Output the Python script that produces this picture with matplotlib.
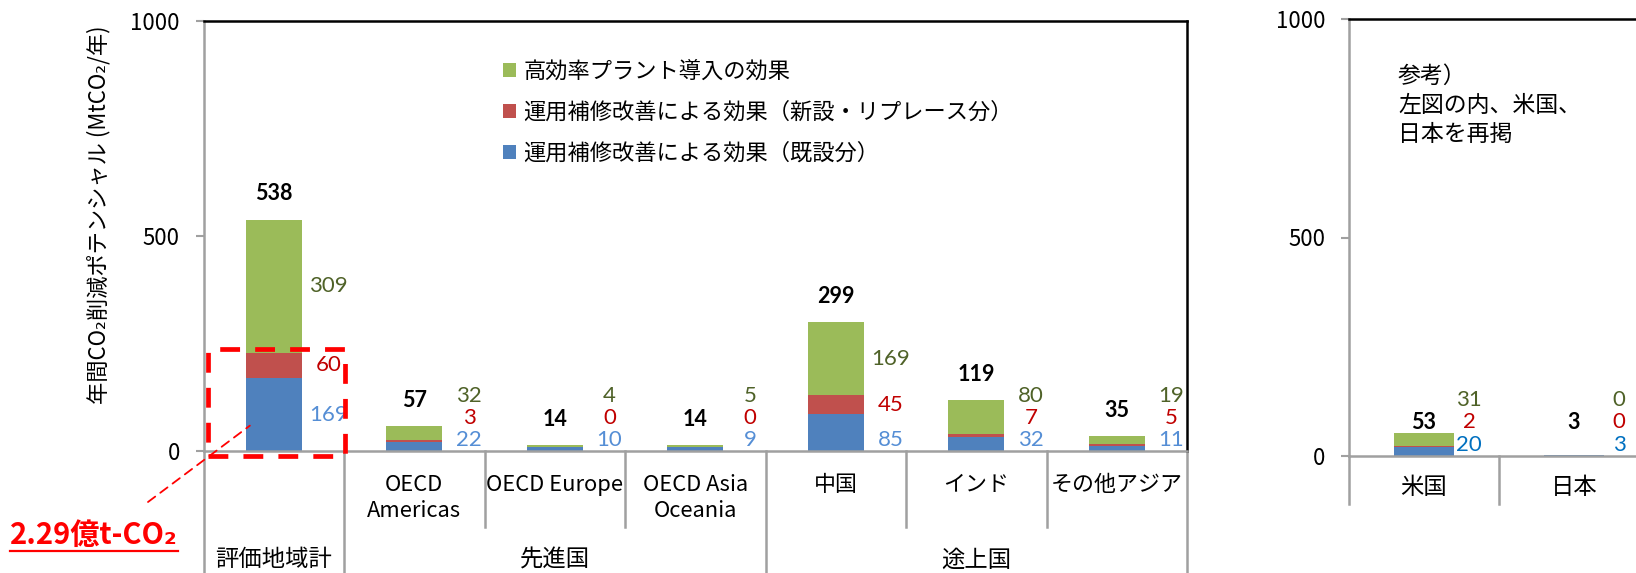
import matplotlib.pyplot as plt
from matplotlib.lines import Line2D
from matplotlib.patches import Rectangle
from matplotlib.transforms import offset_copy

plt.rcParams['font.family'] = ['Noto Sans CJK JP', 'DejaVu Sans']

# ── Data ─────────────────────────────
cats_left = ['', 'OECD\nAmericas', 'OECD Europe', 'OECD Asia\nOceania',
             '中国', 'インド', 'その他アジア']
groups_left = [('評価地域計', 0, 0), ('先進国', 1, 3), ('途上国', 4, 6)]
existing_left = [169, 22, 10, 9, 85, 32, 11]    # 運用補修改善（既設分）
new_left = [60, 3, 0, 0, 45, 7, 5]              # 運用補修改善（新設・リプレース分）
plant_left = [309, 32, 4, 5, 169, 80, 19]       # 高効率プラント導入

cats_right = ['米国', '日本']
existing_right = [20, 3]
new_right = [2, 0]
plant_right = [31, 0]

series_names = ['高効率プラント導入の効果',
                '運用補修改善による効果（新設・リプレース分）',
                '運用補修改善による効果（既設分）']
yticks = [0, 500, 1000]
callout = '2.29億t-CO₂'

# ── Style ─────────────────────────────
C_BLUE, C_RED, C_GREEN = '#4F81BD', '#C0504D', '#9BBB59'
L_RED, L_GREEN = '#C00000', '#4F6228'
GRID = '#A0A0A0'
NUMFONT = ['Lato', 'DejaVu Sans']
W, H, DPI = 1636, 573, 100

fig = plt.figure(figsize=(W / DPI, H / DPI), dpi=DPI)
fig.patch.set_facecolor('white')


def px_axes(x0, x1, y_top, y_bot):
    return [x0 / W, 1 - y_bot / H, (x1 - x0) / W, (y_bot - y_top) / H]


axL = fig.add_axes(px_axes(203.5, 1187, 21, 451))
axR = fig.add_axes(px_axes(1349, 1649, 19, 456))
HL, HR = 430, 437


def style_axes(ax):
    ax.set_ylim(0, 1000)
    ax.set_yticks(yticks)
    ax.tick_params(axis='y', length=6, width=1.5, color=GRID,
                   labelsize=16, pad=11)
    ax.tick_params(axis='x', length=0, labelbottom=False)
    for s in ['left', 'bottom']:
        ax.spines[s].set_color(GRID)
    for s in ax.spines.values():
        s.set_linewidth(1.8)


def draw_bars(ax, existing, new, plant, lab_dx, blue_lab, tot_rule):
    n = len(existing)
    x = list(range(n))
    b1 = ax.bar(x, existing, 0.4, color=C_BLUE, zorder=2)
    b2 = ax.bar(x, new, 0.4, bottom=existing, color=C_RED, zorder=2)
    bot3 = [a + b for a, b in zip(existing, new)]
    b3 = ax.bar(x, plant, 0.4, bottom=bot3, color=C_GREEN, zorder=2)
    ax.set_xlim(-0.5, n - 0.5)
    for i in x:
        e, r, g = existing[i], new[i], plant[i]
        tot = e + r + g
        yb = e / 2 if e / 2 > 60 else 26
        yr = max(e + r / 2, yb + 51)
        yg = max(e + r + g / 2, yr + 51)
        xl = i + lab_dx
        for yy, v, c in [(yb, e, blue_lab), (yr, r, L_RED), (yg, g, L_GREEN)]:
            ax.text(xl, yy, f'{v}', color=c, ha='center', va='center',
                    fontsize=16, family=NUMFONT)
        ax.text(i, tot_rule(tot, yr), f'{tot}', ha='center', va='center',
                fontsize=15.5, fontweight='bold', family=NUMFONT)
    return b3, b2, b1


def vline_below(ax, x, px, ax_h):
    ax.plot([x, x], [0, -px / ax_h], color=GRID, lw=1.8,
            transform=ax.get_xaxis_transform(), clip_on=False)


def text_below(ax, x, s, px, va='top', fs=15.8):
    tr = offset_copy(ax.get_xaxis_transform(), fig=fig, y=-px, units='dots')
    ax.text(x, 0, s, transform=tr, ha='center', va=va, fontsize=fs,
            linespacing=1.22)


# ── Left panel ─────────────────────────────
style_axes(axL)
handles = draw_bars(axL, existing_left, new_left, plant_left, 0.39,
                    '#558ED5', lambda tot, yr: tot + 60)
axL.plot([-0.5, -0.5], [0, -130 / HL], color=GRID, lw=1.8,
         transform=axL.get_xaxis_transform(), clip_on=False)

group_edges = set()
for name, a, b in groups_left:
    group_edges.add(b + 0.5)
    text_below(axL, (a + b) / 2, name, 109, va='center', fs=16.8)
for i in range(len(cats_left)):
    xe = i + 0.5
    vline_below(axL, xe, 130 if xe in group_edges else 76, HL)
for i, c in enumerate(cats_left):
    if c:
        text_below(axL, i, c, 23)

axL.text(-0.107, 0.55, '年間CO₂削減ポテンシャル (MtCO₂/年)', rotation=90,
         transform=axL.transAxes, ha='center', va='center', fontsize=16)

axL.legend(handles, series_names, loc='upper left',
           bbox_to_anchor=(0.295, 0.93), frameon=False, fontsize=16,
           handlelength=0.6, handleheight=0.6, handletextpad=0.35,
           labelspacing=0.8, borderaxespad=0)

# highlight of the operation/maintenance part of the total bar
om_total = existing_left[0] + new_left[0]
axL.add_patch(Rectangle((-0.47, -12), 0.98, om_total + 20, fill=False,
                        ec='#FF0000', lw=3.4, ls=(0, (4.2, 3.2)),
                        clip_on=False, zorder=4))
axL.annotate('', xy=(-0.17, 59), xycoords='data',
             xytext=(148 / W, 1 - 502 / H), textcoords='figure fraction',
             arrowprops=dict(arrowstyle='-', color='#FF0000', lw=1.3,
                             ls=(0, (5, 3.5)), shrinkA=0, shrinkB=0))
t = fig.text(10 / W, 1 - 535 / H, callout, color='#FF0000', fontsize=21,
             fontweight='bold', ha='left', va='center')
fig.canvas.draw()
bb = t.get_window_extent()
fig.add_artist(Line2D([bb.x0 / W, bb.x1 / W], [(bb.y0 - 1) / H] * 2,
                      color='#FF0000', lw=1.6))

# ── Right panel ─────────────────────────────
style_axes(axR)
draw_bars(axR, existing_right, new_right, plant_right, 0.3, '#0070C0',
          lambda tot, yr: max(tot + 22, yr))
axR.spines['right'].set_visible(False)
for i in range(len(cats_right) + 1):
    vline_below(axR, i - 0.5, 48, HR)
for i, c in enumerate(cats_right):
    text_below(axR, i, c, 32, va='center', fs=16.8)
axR.text(0.163, 0.895, '参考）\n左図の内、米国、\n日本を再掲', transform=axR.transAxes,
         ha='left', va='top', fontsize=16.5, linespacing=1.33)

fig.savefig('out.png', dpi=DPI, facecolor='white')
plt.close()
